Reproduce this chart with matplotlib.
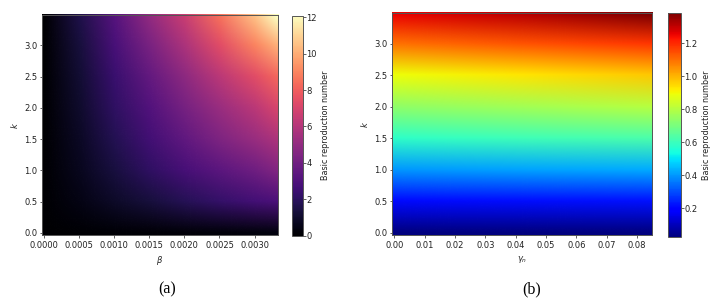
import numpy as np
import matplotlib
matplotlib.use("Agg")
import matplotlib.pyplot as plt
from matplotlib.image import NonUniformImage

# ---------------- data ----------------
# panel (a): R0 as a function of beta (columns) and k (rows)
beta_vals = [0.0, 0.0005, 0.0010, 0.0015, 0.0020, 0.0025, 0.0030, 0.0033]
k_vals_a = [0.0, 0.5, 1.0, 1.5, 2.0, 2.5, 3.0, 3.45]
r0_k000 = [0.0, 0.05, 0.10, 0.15, 0.20, 0.25, 0.30, 0.35]
r0_k050 = [0.0, 0.45, 0.90, 1.35, 1.80, 2.25, 2.65, 2.90]
r0_k100 = [0.0, 0.70, 1.40, 2.10, 2.75, 3.40, 4.00, 4.50]
r0_k150 = [0.0, 0.85, 1.75, 2.60, 3.50, 4.40, 5.20, 5.80]
r0_k200 = [0.0, 1.00, 2.10, 3.10, 4.20, 5.20, 6.20, 7.00]
r0_k250 = [0.0, 1.15, 2.40, 3.60, 4.90, 6.20, 7.40, 8.20]
r0_k300 = [0.0, 1.35, 2.80, 4.30, 5.80, 7.40, 9.00, 10.10]
r0_k345 = [0.0, 1.60, 3.20, 5.00, 6.60, 8.50, 10.50, 12.10]
r0_a = [r0_k000, r0_k050, r0_k100, r0_k150, r0_k200, r0_k250, r0_k300, r0_k345]

# panel (b): R0 as a function of gamma_n (columns) and k (rows)
gamma_vals = [0.0, 0.042, 0.0842]
k_vals_b = [0.0, 0.5, 1.0, 1.5, 2.0, 2.5, 3.0, 3.45]
r0_b = [
    [0.03, 0.03, 0.03],
    [0.21, 0.215, 0.22],
    [0.40, 0.415, 0.43],
    [0.58, 0.605, 0.63],
    [0.74, 0.77, 0.80],
    [0.89, 0.93, 0.97],
    [1.10, 1.14, 1.18],
    [1.25, 1.31, 1.38],
]

cbar_label = "Basic reproduction number"
n_mesh = 50  # mesh resolution used for the original heatmaps

# ---------------- style ----------------
plt.rcParams["font.family"] = ["DejaVu Sans"]
plt.rcParams["font.size"] = 6.0
plt.rcParams["axes.linewidth"] = 0.7
plt.rcParams["axes.edgecolor"] = "#555555"
plt.rcParams["xtick.major.size"] = 1.8
plt.rcParams["ytick.major.size"] = 1.8
plt.rcParams["xtick.major.width"] = 0.5
plt.rcParams["ytick.major.width"] = 0.5
plt.rcParams["xtick.major.pad"] = 2.8
plt.rcParams["ytick.major.pad"] = 1.2
plt.rcParams["xtick.color"] = "#222222"
plt.rcParams["ytick.color"] = "#222222"
plt.rcParams["text.color"] = "#222222"
plt.rcParams["axes.labelcolor"] = "#222222"

W, H = 725, 301
fig = plt.figure(figsize=(W / 100, H / 100), dpi=100)


def px_axes(l, r, t, b):
    return fig.add_axes([l / W, 1 - b / H, (r - l) / W, (b - t) / H])


def heat(ax, cax, xv, yv, Z, cmap, xlabel, vmin=None, vmax=None):
    xv = np.asarray(xv, float)
    yv = np.asarray(yv, float)
    Z = np.asarray(Z, float)
    hx = (xv[-1] - xv[0]) / (n_mesh - 1) / 2
    hy = (yv[-1] - yv[0]) / (n_mesh - 1) / 2
    ext = (xv[0] - hx, xv[-1] + hx, yv[0] - hy, yv[-1] + hy)
    im = NonUniformImage(ax, interpolation="bilinear", extent=ext, cmap=cmap)
    im.set_data(xv, yv, Z)
    im.set_clim(Z.min() if vmin is None else vmin, Z.max() if vmax is None else vmax)
    ax.add_image(im)
    ax.set_xlim(ext[0], ext[1])
    ax.set_ylim(ext[2], ext[3])
    ax.set_xlabel(xlabel, labelpad=2.5)
    ax.set_ylabel("$k$", labelpad=3)
    cb = fig.colorbar(im, cax=cax)
    cb.outline.set_linewidth(0.7)
    cb.outline.set_edgecolor("#555555")
    cb.ax.tick_params(length=1.8, width=0.5, pad=0.8)
    cb.set_label(cbar_label, labelpad=3, fontsize=5.8)
    return im, cb


ax1 = px_axes(41.7, 278, 15, 235)
cax1 = px_axes(292.3, 302.7, 15.5, 235.5)
heat(ax1, cax1, beta_vals, k_vals_a, r0_a, "magma", r"$\beta$", vmin=0)
ax1.set_xticks([0, 0.0005, 0.001, 0.0015, 0.002, 0.0025, 0.003])
ax1.set_xticklabels(["0.0000", "0.0005", "0.0010", "0.0015", "0.0020", "0.0025", "0.0030"])
ax1.set_yticks([0, 0.5, 1.0, 1.5, 2.0, 2.5, 3.0])

ax2 = px_axes(391.7, 652.3, 13.3, 235)
cax2 = px_axes(668.3, 680.7, 13.3, 236.5)
heat(ax2, cax2, gamma_vals, k_vals_b, r0_b, "jet", r"$\gamma_n$")
ax2.set_xticks(np.arange(0, 0.081, 0.01))
ax2.set_yticks([0, 0.5, 1.0, 1.5, 2.0, 2.5, 3.0])

fig.text(167 / W, 1 - 289 / H, "(a)", ha="center", va="center",
         family=["Liberation Serif", "DejaVu Serif"], fontsize=11.5, color="black")
fig.text(531.5 / W, 1 - 289 / H, "(b)", ha="center", va="center",
         family=["Liberation Serif", "DejaVu Serif"], fontsize=11.5, color="black")

fig.savefig("out.png", dpi=100)
